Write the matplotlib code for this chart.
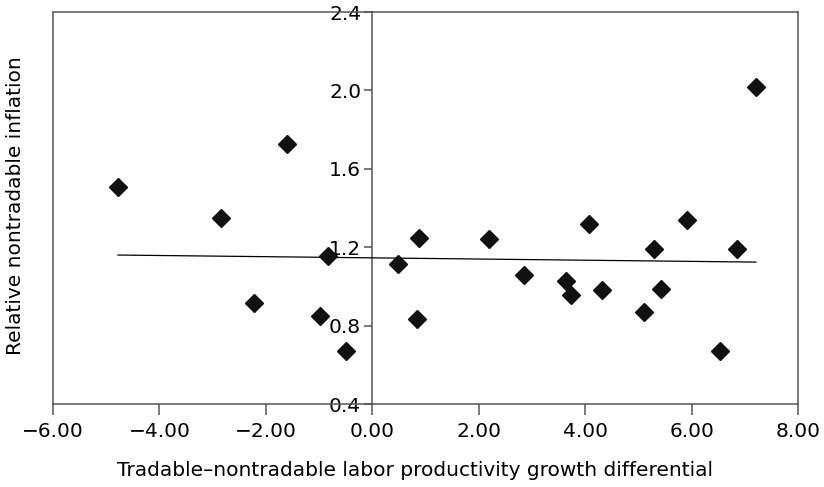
import matplotlib
matplotlib.use("Agg")
import matplotlib.pyplot as plt
import numpy as np

plt.rcParams['font.family'] = ['DejaVu Sans']

x_vals = [-4.78, -2.84, -1.60, -2.22, -0.98, -0.83, -0.49, 0.49, 0.88, 0.84,
          2.20, 2.85, 3.64, 3.74, 4.32, 4.08, 5.30, 5.43, 5.11, 5.92, 6.54, 6.86, 7.21]
y_vals = [1.507, 1.349, 1.727, 0.915, 0.849, 1.155, 0.670, 1.114, 1.247, 0.834,
          1.242, 1.058, 1.028, 0.956, 0.982, 1.318, 1.191, 0.987, 0.869, 1.339, 0.670, 1.191, 2.017]
trend_x = [-4.78, 7.21]
trend_y = [1.160, 1.124]
x_ticks = [-6, -4, -2, 0, 2, 4, 6, 8]
y_ticks = [0.4, 0.8, 1.2, 1.6, 2.0, 2.4]

fig = plt.figure(figsize=(8.24, 4.87), dpi=100)
ax = fig.add_axes([53/824, 1-404/487, (798-53)/824, (404-12)/487])
ax.set_xlim(-6, 8)
ax.set_ylim(0.4, 2.4)

spine_c = '#555555'
for s in ax.spines.values():
    s.set_color(spine_c)
    s.set_linewidth(1.1)
ax.spines['left'].set_position(('data', 0))
ax.spines['left'].set_zorder(1)
ax.axvline(-6, color=spine_c, lw=1.1, clip_on=False, zorder=1)

ax.plot(trend_x, trend_y, color='black', lw=0.9, zorder=2)
ax.plot(x_vals, y_vals, linestyle='none', marker='D', markersize=9.5,
        color='#111111', zorder=3)

ax.set_xticks(x_ticks)
ax.set_xticklabels([f"{v:.2f}".replace('-', '\u2212') for v in x_ticks], fontsize=14.5)
ax.set_yticks(y_ticks)
ax.set_yticklabels([f"{v:.1f}" for v in y_ticks], fontsize=14.5)
ax.tick_params(axis='x', direction='out', length=8, width=1.1, color=spine_c, pad=5)
ax.tick_params(axis='y', direction='out', length=6, width=1.1, color=spine_c, pad=2)
for lab in ax.get_yticklabels():
    lab.set_bbox(dict(facecolor='white', edgecolor='none', pad=1.0))
    lab.set_zorder(5)

fig.text(16/824, 1-206/487, 'Relative nontradable inflation', rotation=90,
         ha='center', va='center', fontsize=14.5)
fig.text(415/824, 1-470/487, 'Tradable\u2013nontradable labor productivity growth differential',
         ha='center', va='center', fontsize=14.5)

fig.savefig('out.png', dpi=100)
